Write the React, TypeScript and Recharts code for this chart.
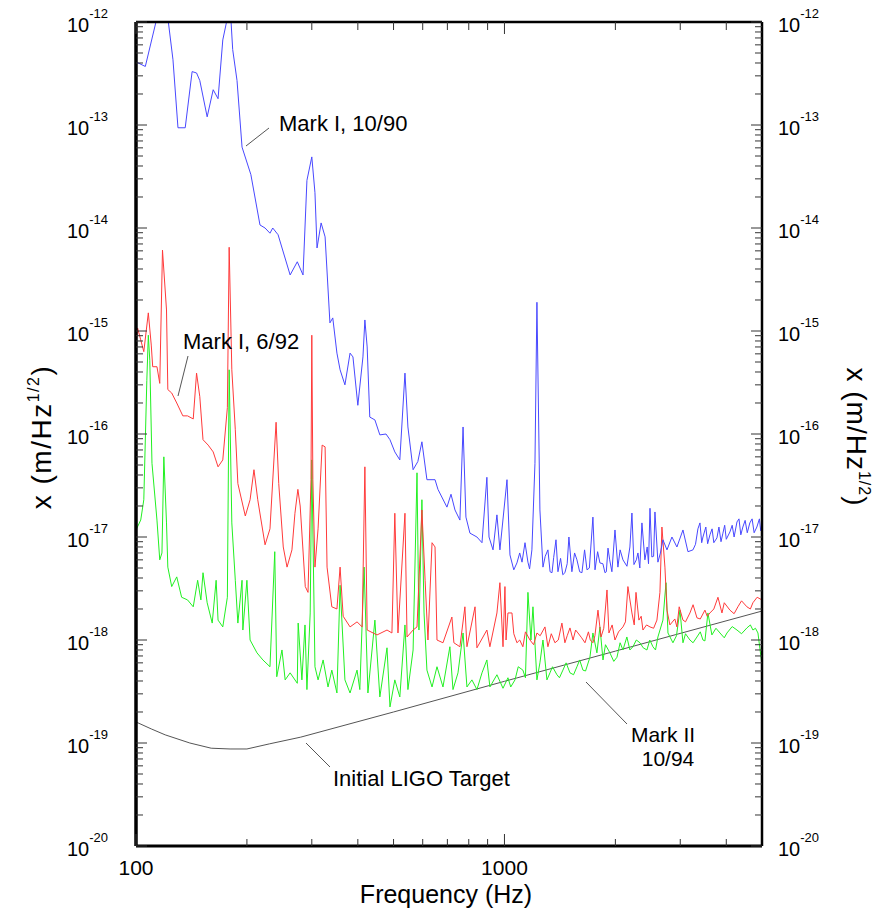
import { LineChart, Line, XAxis, YAxis } from 'recharts'

// frequency (Hz), displacement noise (m/Hz^1/2)
const markI1090: [number, number][] = [
  [100, 4.1e-13], [106, 3.7e-13], [114, 1.1e-12], [122, 1.1e-12], [126, 4.3e-13], [130, 9.4e-14],
  [136, 9.4e-14], [142, 3.3e-13], [146, 3.2e-13], [149, 2.7e-13], [156, 1.2e-13], [162, 2.2e-13],
  [167, 1.8e-13], [172, 6.7e-13], [178, 1.2e-12], [181, 1.05e-12], [183, 5.4e-13], [188, 2.7e-13],
  [194, 6.1e-14], [205, 3.3e-14], [217, 1.07e-14], [224, 1.0e-14], [231, 8.9e-15], [235, 1.0e-14],
  [243, 8.6e-15], [262, 3.5e-15], [274, 4.7e-15], [284, 3.5e-15], [291, 2.9e-14], [300, 4.9e-14],
  [306, 2.2e-14], [310, 6.4e-15], [318, 1.12e-14], [326, 8.2e-15], [336, 1.2e-15], [342, 1.34e-15],
  [351, 6.1e-16], [358, 4.2e-16], [369, 3.0e-16], [381, 6.1e-16], [388, 5.6e-16], [400, 1.9e-16],
  [413, 5.6e-16], [418, 1.28e-15], [424, 7.0e-16], [431, 1.46e-16], [445, 1.37e-16], [459, 9.8e-17],
  [477, 1.0e-16], [489, 8.8e-17], [504, 6.7e-17], [520, 5.6e-17], [537, 3.9e-16], [547, 1.17e-16],
  [565, 4.5e-17], [582, 5.4e-17], [597, 8.4e-17], [616, 3.6e-17], [648, 3.6e-17], [660, 2.9e-17],
  [698, 1.95e-17], [716, 2.6e-17], [734, 1.83e-17], [757, 1.46e-17], [772, 1.17e-16], [786, 1.56e-17],
  [806, 1.09e-17], [842, 1.0e-17], [869, 8.8e-18], [896, 3.8e-17], [908, 1.0e-17], [931, 7.5e-18],
  [954, 1.64e-17], [972, 7.5e-18], [1016, 3.6e-17], [1035, 6.7e-18], [1060, 4.8e-18], [1081, 5.6e-18],
  [1100, 7.0e-18], [1116, 5.7e-18], [1137, 8.8e-18], [1158, 5.7e-18], [1170, 4.9e-18], [1187, 7.5e-18],
  [1210, 5.2e-17], [1225, 1.9e-15], [1248, 1.83e-17], [1272, 5.1e-18], [1290, 6.5e-18], [1312, 7.5e-18],
  [1330, 4.6e-18], [1346, 4.5e-18], [1360, 6.3e-18], [1380, 9.4e-18], [1397, 4.6e-18], [1420, 6.2e-18],
  [1440, 4.3e-18], [1459, 4.5e-18], [1480, 5.5e-18], [1496, 1.0e-17], [1524, 4.6e-18], [1550, 7.0e-18],
  [1573, 6.0e-18], [1600, 4.6e-18], [1623, 4.5e-18], [1650, 7.5e-18], [1675, 4.8e-18], [1700, 5.0e-18],
  [1738, 1.56e-17], [1761, 4.8e-18], [1790, 7.2e-18], [1816, 5.6e-18], [1850, 5.5e-18], [1874, 4.5e-18],
  [1890, 4.6e-18], [1910, 7.8e-18], [1930, 6.0e-18], [1957, 4.6e-18], [1995, 1.17e-17], [2032, 5.1e-18],
  [2060, 7.5e-18], [2097, 6.0e-18], [2150, 5.2e-18], [2190, 8.0e-18], [2218, 1.71e-17], [2246, 5.4e-18],
  [2280, 6.0e-18], [2303, 7.0e-18], [2330, 5.0e-18], [2361, 1.37e-17], [2405, 6.0e-18], [2440, 8.0e-18],
  [2460, 5.5e-18], [2483, 1.9e-17], [2512, 6.4e-18], [2540, 6.5e-18], [2561, 1.75e-17], [2609, 5.7e-18],
  [2650, 7.0e-18], [2692, 9.4e-18], [2761, 7.5e-18], [2848, 1.0e-17], [2938, 8.0e-18], [3051, 1.17e-17],
  [3148, 7.2e-18], [3248, 7.5e-18], [3300, 8.5e-18], [3350, 1.2e-17], [3393, 1.37e-17], [3430, 8.8e-18],
  [3457, 1.0e-17], [3520, 1.25e-17], [3560, 8.6e-18], [3612, 1.05e-17], [3660, 1.2e-17], [3700, 8.8e-18],
  [3773, 9.8e-18], [3820, 1.25e-17], [3870, 9.0e-18], [3917, 1.09e-17], [3960, 1.3e-17], [4000, 9.5e-18],
  [4092, 1.12e-17], [4150, 1.3e-17], [4200, 1.0e-17], [4276, 1.4e-17], [4330, 1.5e-17], [4380, 1.05e-17],
  [4436, 1.25e-17], [4500, 1.45e-17], [4560, 1.1e-17], [4634, 1.37e-17], [4700, 1.5e-17], [4760, 1.1e-17],
  [4842, 1.25e-17], [4920, 1.5e-17], [4960, 1.15e-17], [5000, 1.37e-17],
]

const markI692: [number, number][] = [
  [100, 7.3e-16], [101, 1.07e-15], [103, 8.2e-16], [105, 6.3e-16], [108, 1.5e-15], [110, 7.3e-16],
  [111, 4.5e-16], [114, 4.5e-16], [116, 3.1e-16], [118, 6.1e-15], [121, 1.6e-15], [122, 2.7e-16],
  [125, 2.5e-16], [129, 2.0e-16], [134, 1.5e-16], [138, 1.5e-16], [143, 1.4e-16], [146, 3.9e-16],
  [149, 2.3e-16], [152, 8.8e-17], [157, 7.8e-17], [162, 6.7e-17], [167, 4.8e-17], [172, 5.6e-17],
  [177, 1.8e-16], [179, 6.5e-15], [182, 4.2e-16], [186, 1.1e-16], [189, 3.3e-17], [198, 1.6e-17],
  [204, 2.3e-17], [209, 4.5e-17], [214, 2.3e-17], [224, 8.4e-18], [231, 1.2e-17], [240, 1.3e-16],
  [244, 3.3e-17], [251, 8.0e-18], [257, 5.1e-18], [265, 7.5e-18], [270, 1.7e-17], [275, 2.9e-17],
  [279, 2.0e-17], [288, 3.3e-18], [293, 2.9e-18], [298.5, 3.6e-17], [300, 9.1e-16], [302, 3.6e-17],
  [306, 5.1e-18], [312, 1.2e-17], [320, 7.8e-17], [326, 7.5e-17], [330, 5.1e-18], [340, 2.1e-18],
  [351, 2.0e-18], [358, 5.1e-18], [365, 1.7e-18], [381, 1.34e-18], [398, 1.5e-18], [411, 1.34e-18],
  [418, 4.8e-17], [424, 1.25e-18], [451, 1.12e-18], [480, 1.25e-18], [495, 1.17e-18], [504, 1.7e-17],
  [514, 1.17e-18], [537, 1.7e-17], [544, 1.07e-18], [565, 1.25e-18], [579, 1.34e-18], [597, 1.83e-17],
  [609, 3.8e-18], [620, 1.0e-18], [636, 8.8e-18], [648, 8.0e-18], [656, 1.0e-18], [681, 9.4e-19],
  [720, 1.67e-18], [729, 9.4e-19], [757, 8.6e-19], [781, 2.1e-18], [791, 8.6e-19], [832, 2.1e-18],
  [842, 8.4e-19], [896, 1.25e-18], [913, 8.6e-19], [954, 1.83e-18], [972, 3.6e-18], [991, 8.6e-19],
  [1003, 3.3e-18], [1010, 1.0e-18], [1022, 1.83e-18], [1048, 1.83e-18], [1060, 1.15e-18], [1081, 9.4e-19],
  [1100, 1.0e-18], [1122, 8.6e-19], [1140, 1.2e-18], [1173, 1.0e-18], [1200, 9.0e-19], [1225, 1.17e-18],
  [1250, 1.1e-18], [1288, 1.34e-18], [1312, 8.6e-19], [1340, 1.15e-18], [1371, 9.4e-19], [1400, 1.0e-18],
  [1432, 1.46e-18], [1459, 9.4e-19], [1480, 1.1e-18], [1506, 1.31e-18], [1535, 1.0e-18], [1560, 1.25e-18],
  [1583, 1.17e-18], [1620, 1.05e-18], [1654, 9.4e-19], [1690, 1.2e-18], [1710, 1.0e-18], [1738, 9.4e-19],
  [1760, 1.1e-18], [1794, 1.95e-18], [1828, 1.07e-18], [1860, 1.3e-18], [1898, 3.06e-18], [1921, 1.17e-18],
  [1960, 1.4e-18], [1995, 1.0e-18], [2040, 1.2e-18], [2097, 1.34e-18], [2130, 1.5e-18], [2163, 3.3e-18],
  [2218, 1.83e-18], [2250, 1.4e-18], [2275, 2.9e-18], [2317, 1.56e-18], [2350, 1.7e-18], [2376, 1.25e-18],
  [2430, 1.4e-18], [2483, 1.34e-18], [2540, 1.3e-18], [2593, 1.56e-18], [2642, 2.9e-18], [2675, 1.25e-17],
  [2726, 5.1e-18], [2761, 1.95e-18], [2812, 1.4e-18], [2900, 1.6e-18], [2938, 1.34e-18], [2980, 2.1e-18],
  [3051, 1.56e-18], [3100, 1.5e-18], [3187, 1.83e-18], [3250, 2.2e-18], [3330, 1.64e-18], [3400, 1.6e-18],
  [3500, 1.95e-18], [3550, 1.7e-18], [3612, 1.83e-18], [3700, 2.0e-18], [3797, 2.6e-18], [3893, 1.83e-18],
  [3950, 2.3e-18], [4092, 1.95e-18], [4200, 1.8e-18], [4301, 2.1e-18], [4400, 2.4e-18], [4550, 2.1e-18],
  [4650, 2.0e-18], [4724, 2.3e-18], [4850, 2.6e-18], [5000, 2.45e-18],
]

const markII1094: [number, number][] = [
  [100, 1.17e-17], [103, 1.46e-17], [105, 2.3e-17], [107, 3.3e-16], [108, 9.1e-16], [109, 5.2e-16],
  [110.5, 5.2e-17], [114, 1.46e-17], [116, 6.0e-18], [117.6, 7.0e-18], [119, 6.0e-17], [121, 1.37e-17],
  [122, 5.1e-18], [125, 3.3e-18], [129, 4.1e-18], [133, 2.6e-18], [138, 2.45e-18], [143, 2.1e-18],
  [147, 3.8e-18], [150, 2.45e-18], [152, 4.5e-18], [156, 2.3e-18], [161, 1.46e-18], [165, 3.8e-18],
  [167, 1.56e-18], [172, 1.34e-18], [177, 2.6e-18], [179, 4.2e-16], [182, 1.37e-17], [186, 3.8e-18],
  [189, 1.46e-18], [194, 3.8e-18], [195, 1.25e-18], [200, 3.8e-18], [204, 1.0e-18], [213, 7.5e-19],
  [221, 6.4e-19], [231, 5.5e-19], [238, 7.2e-18], [241, 4.4e-19], [249, 8.0e-19], [254, 4.1e-19],
  [262, 4.8e-19], [274, 3.8e-19], [275.5, 1.46e-18], [282, 4.1e-19], [287.5, 1.4e-18], [291, 3.3e-19],
  [297, 1.83e-18], [300, 5.6e-17], [306, 5.5e-19], [312, 4.1e-19], [322, 6.4e-19], [332, 3.5e-19],
  [340, 5.1e-19], [351, 3.06e-19], [358, 3.4e-18], [369, 4.1e-19], [381, 3.06e-19], [398, 5.1e-19],
  [405, 3.3e-19], [416, 5.1e-18], [426, 3.06e-19], [445, 1.56e-18], [459, 2.8e-19], [480, 8.4e-19],
  [489, 2.24e-19], [504, 4.1e-19], [520, 2.8e-19], [537, 1.4e-18], [547, 3.3e-19], [565, 8.0e-19],
  [579, 4.2e-17], [586, 1.25e-18], [597, 2.3e-17], [605, 1.83e-18], [616, 5.1e-19], [636, 3.5e-19],
  [656, 5.5e-19], [681, 3.5e-19], [711, 8.6e-19], [725, 3.3e-19], [748, 4.8e-19], [772, 1.17e-18],
  [791, 3.5e-19], [816, 4.1e-19], [842, 3.3e-19], [869, 4.8e-19], [896, 6.4e-19], [913, 3.5e-19],
  [954, 4.6e-19], [991, 3.4e-19], [1022, 4.3e-19], [1040, 3.5e-19], [1068, 4.1e-19], [1090, 5.5e-19],
  [1122, 5.1e-19], [1140, 4.3e-19], [1158, 2.9e-18], [1180, 1.0e-18], [1195, 2.1e-18], [1225, 4.1e-19],
  [1248, 6.0e-19], [1272, 1.0e-18], [1304, 4.1e-19], [1329, 4.8e-19], [1350, 5.5e-19], [1388, 4.6e-19],
  [1410, 4.3e-19], [1441, 5.1e-19], [1470, 6.0e-19], [1506, 4.8e-19], [1540, 4.6e-19], [1573, 5.5e-19],
  [1600, 6.4e-19], [1633, 5.1e-19], [1660, 5.0e-19], [1706, 6.8e-19], [1738, 1.17e-18], [1782, 7.5e-19],
  [1816, 1.34e-18], [1851, 6.4e-19], [1880, 9.0e-19], [1933, 7.5e-19], [1980, 6.2e-19], [2020, 6.8e-19],
  [2060, 9.4e-19], [2097, 8.0e-19], [2149, 1.07e-18], [2190, 8.0e-19], [2232, 8.6e-19], [2280, 1.0e-18],
  [2332, 9.4e-19], [2380, 8.4e-19], [2436, 8.0e-19], [2480, 1.0e-18], [2529, 8.6e-19], [2570, 8.0e-19],
  [2609, 1.07e-18], [2692, 1.56e-18], [2744, 3.6e-18], [2778, 1.17e-18], [2866, 9.4e-19], [2930, 1.1e-18],
  [2994, 1.95e-18], [3051, 9.4e-19], [3100, 1.15e-18], [3187, 1.0e-18], [3250, 9.4e-19], [3330, 1.07e-18],
  [3400, 1.2e-18], [3457, 1.0e-18], [3500, 9.8e-19], [3566, 1.83e-18], [3656, 1.12e-18], [3750, 1.3e-18],
  [3845, 1.17e-18], [3950, 1.05e-18], [4017, 1.17e-18], [4150, 1.35e-18], [4276, 1.25e-18], [4400, 1.15e-18],
  [4550, 1.31e-18], [4650, 1.4e-18], [4724, 1.25e-18], [4800, 1.3e-18], [4875, 1.17e-18], [5000, 5.7e-19],
]

const ligoTarget: [number, number][] = [
  [100, 1.6e-19], [110, 1.37e-19], [120, 1.2e-19], [140, 1.0e-19], [160, 8.9e-20], [180, 8.75e-20],
  [200, 8.75e-20], [230, 9.8e-20], [280, 1.14e-19], [500, 2.0e-19], [1000, 3.97e-19], [2000, 7.8e-19],
  [5000, 1.91e-18],
]

const xTicks = [100, 200, 300, 400, 500, 600, 700, 800, 900, 1000, 2000, 3000, 4000]
const xMajor = [100, 1000]
const yMajor = [1e-12, 1e-13, 1e-14, 1e-15, 1e-16, 1e-17, 1e-18, 1e-19, 1e-20]
const yMinorSteps = [2, 3, 4, 5, 6, 7, 8, 9]
const yTicks = [
  ...yMajor,
  ...yMajor.slice(1).flatMap((d) => yMinorSteps.map((m) => m * d)),
]

const toRows = (pts: [number, number][]) =>
  [...pts].sort((a, b) => a[0] - b[0]).map(([f, v]) => ({ f, v }))

const FONT = '"Liberation Sans", Arial, Helvetica, sans-serif'

const isMajorY = (v: number) => yMajor.some((m) => Math.abs(v / m - 1) < 1e-6)

function LeftTick({ x, y, payload }: any) {
  const v = payload.value
  const major = isMajorY(v)
  return (
    <g>
      <line x1={x} y1={y} x2={x + (major ? 11 : 7)} y2={y} stroke="#333" strokeWidth={1} />
      {major && (
        <text x={x - 28} y={y + 10} textAnchor="end" fontSize={20} fontFamily={FONT} fill="#000">
          10<tspan dy={-14} fontSize={13}>{String(Math.round(Math.log10(v)))}</tspan>
        </text>
      )}
    </g>
  )
}

function RightTick({ x, y, payload }: any) {
  const v = payload.value
  const major = isMajorY(v)
  return (
    <g>
      <line x1={x} y1={y} x2={x - (major ? 11 : 7)} y2={y} stroke="#333" strokeWidth={1} />
      {major && (
        <text x={x + 16} y={y + 10} textAnchor="start" fontSize={20} fontFamily={FONT} fill="#000">
          10<tspan dy={-14} fontSize={13}>{String(Math.round(Math.log10(v)))}</tspan>
        </text>
      )}
    </g>
  )
}

function BottomTick({ x, y, payload }: any) {
  const v = payload.value
  const major = xMajor.includes(v)
  return (
    <g>
      <line x1={x} y1={y} x2={x} y2={y - (major ? 12 : 7)} stroke="#333" strokeWidth={1} />
      {major && (
        <text x={x} y={y + 29} textAnchor="middle" fontSize={21} fontFamily={FONT} fill="#000">
          {v}
        </text>
      )}
    </g>
  )
}

function TopTick({ x, y, payload }: any) {
  const major = xMajor.includes(payload.value)
  return <line x1={x} y1={y} x2={x} y2={y + (major ? 12 : 8)} stroke="#333" strokeWidth={1} />
}

export default function App() {
  return (
    <div style={{ position: 'absolute', left: 0, top: 0, width: 888, height: 912, background: '#fff' }}>
      <LineChart width={888} height={912} margin={{ top: 2, right: 0, bottom: 0, left: 0 }}>
        <XAxis
          xAxisId="b"
          dataKey="f"
          type="number"
          scale="log"
          domain={[100, 5000]}
          allowDataOverflow
          ticks={xTicks}
          interval={0}
          height={66}
          tickSize={0}
          tickMargin={0}
          tick={<BottomTick />}
          axisLine={{ stroke: '#000', strokeWidth: 3 }}
        />
        <XAxis
          xAxisId="t"
          orientation="top"
          dataKey="f"
          type="number"
          scale="log"
          domain={[100, 5000]}
          allowDataOverflow
          ticks={xTicks}
          interval={0}
          height={20}
          tickSize={0}
          tickMargin={0}
          tick={<TopTick />}
          axisLine={{ stroke: '#000', strokeWidth: 2.5 }}
        />
        <YAxis
          yAxisId="l"
          dataKey="v"
          type="number"
          scale="log"
          domain={[1e-20, 1e-12]}
          allowDataOverflow
          ticks={yTicks}
          interval={0}
          width={136}
          tickSize={0}
          tickMargin={0}
          tick={<LeftTick />}
          axisLine={{ stroke: '#000', strokeWidth: 3.5 }}
        />
        <YAxis
          yAxisId="r"
          orientation="right"
          dataKey="v"
          type="number"
          scale="log"
          domain={[1e-20, 1e-12]}
          allowDataOverflow
          ticks={yTicks}
          interval={0}
          width={126}
          tickSize={0}
          tickMargin={0}
          tick={<RightTick />}
          axisLine={{ stroke: '#000', strokeWidth: 2.5 }}
        />
        <Line data={toRows(ligoTarget)} xAxisId="t" yAxisId="r" dataKey="v" type="linear" stroke="#555" strokeWidth={1} dot={false} isAnimationActive={false} />
        <Line data={toRows(markII1094)} xAxisId="b" yAxisId="l" dataKey="v" type="linear" stroke="#22f022" strokeWidth={1} dot={false} isAnimationActive={false} />
        <Line data={toRows(markI692)} xAxisId="b" yAxisId="l" dataKey="v" type="linear" stroke="#ff3a3a" strokeWidth={1} dot={false} isAnimationActive={false} />
        <Line data={toRows(markI1090)} xAxisId="b" yAxisId="l" dataKey="v" type="linear" stroke="#4848ff" strokeWidth={1} dot={false} isAnimationActive={false} />
      </LineChart>
      <svg width={888} height={912} style={{ position: 'absolute', left: 0, top: 0, pointerEvents: 'none' }} fontFamily={FONT}>
        <line x1={246} y1={146} x2={269} y2={128} stroke="#555" strokeWidth={1} />
        <text x={279} y={131} fontSize={22} fill="#000">Mark I, 10/90</text>
        <line x1={178} y1={396} x2={188} y2={356} stroke="#555" strokeWidth={1} />
        <text x={183} y={349} fontSize={22} fill="#000">Mark I, 6/92</text>
        <line x1={306} y1={743} x2={330} y2={767} stroke="#555" strokeWidth={1} />
        <text x={333} y={786} fontSize={22} fill="#000">Initial LIGO Target</text>
        <line x1={586} y1={682} x2={627} y2={724} stroke="#555" strokeWidth={1} />
        <text x={663} y={742} fontSize={21} fill="#000" textAnchor="middle">Mark II</text>
        <text x={668} y={766} fontSize={21} fill="#000" textAnchor="middle">10/94</text>
        <text x={446} y={903} fontSize={25} fill="#000" textAnchor="middle">Frequency (Hz)</text>
        <text transform="translate(51,437) rotate(-90)" fontSize={28} letterSpacing={1.5} fill="#000" textAnchor="middle">
          x (m/Hz<tspan dy={-12} fontSize={16}>1/2</tspan><tspan dy={12}>)</tspan>
        </text>
        <text transform="translate(847,437) rotate(90)" fontSize={28} letterSpacing={1} fill="#000" textAnchor="middle">
          x (m/Hz<tspan dy={-12} fontSize={16}>1/2</tspan><tspan dy={12}>)</tspan>
        </text>
      </svg>
    </div>
  )
}
